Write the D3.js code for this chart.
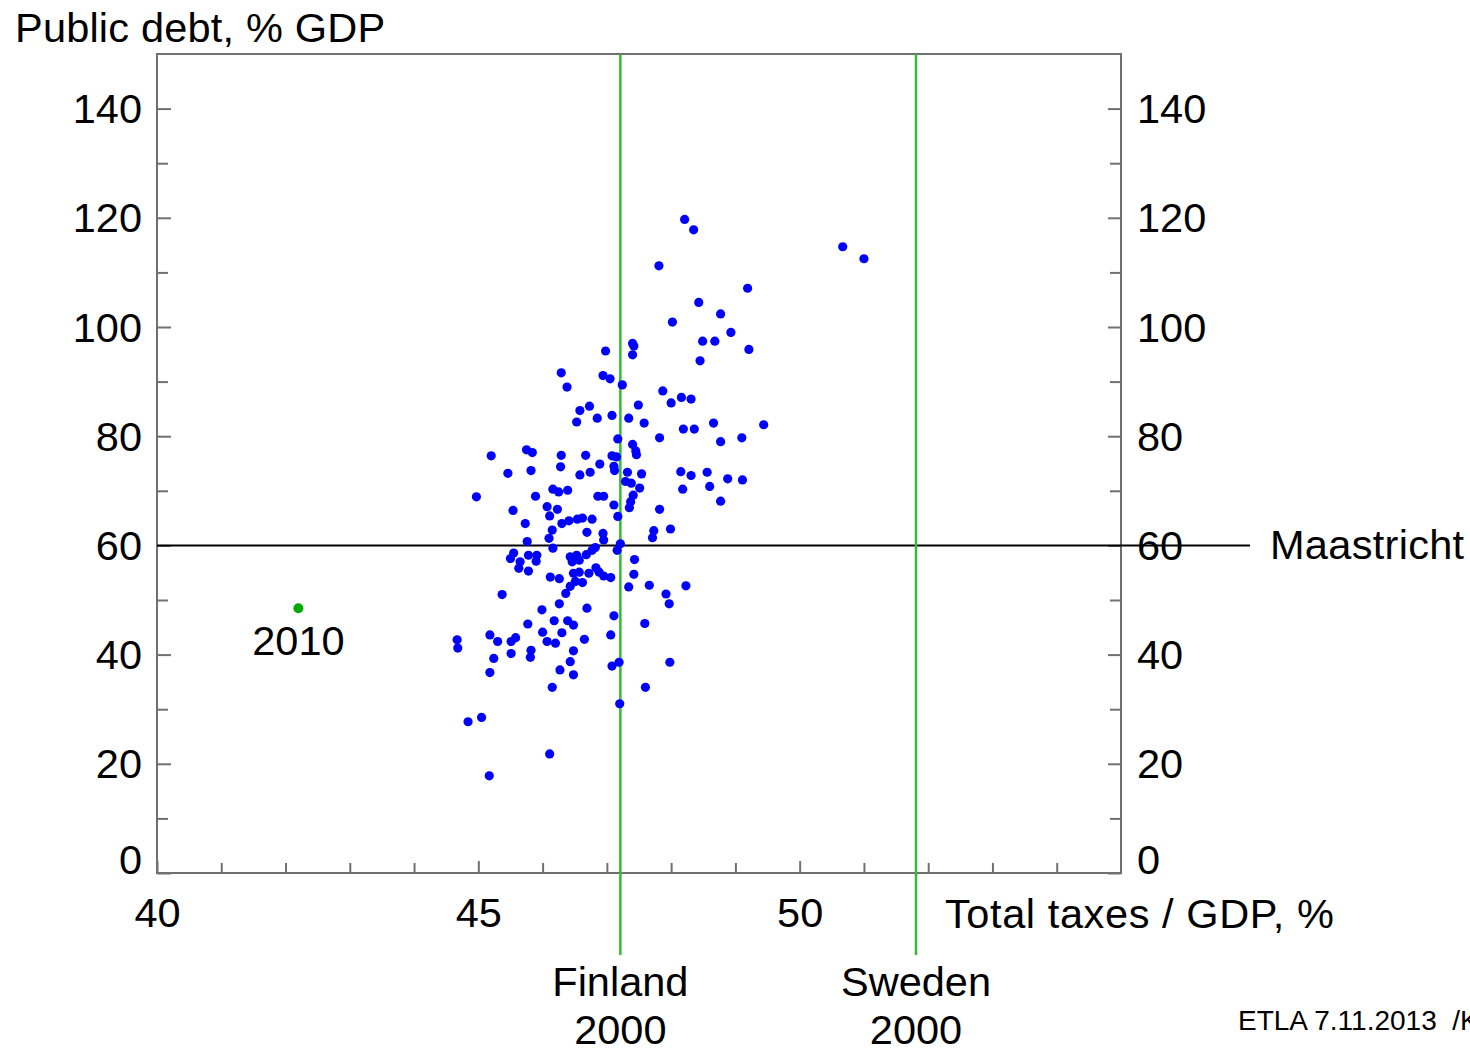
<!DOCTYPE html>
<html>
<head>
<meta charset="utf-8">
<script src="https://cdn.jsdelivr.net/npm/d3@7/dist/d3.min.js"></script>
<style>
  html, body { margin: 0; padding: 0; background: #fff; }
  svg { display: block; }
  text { font-family: "Liberation Sans", Arial, Helvetica, sans-serif; fill: #000; }
</style>
</head>
<body>
<svg id="chart" width="1470" height="1052"></svg>
<script>
// ---- Data ----
const taxes = [48.21,48.35,50.67,51.00,47.81,49.19,48.43,48.77,48.02,48.93,48.49,48.68,47.40,47.42,47.40,46.98,49.21,48.45,46.29,46.38,
46.94,47.05,47.24,47.87,48.00,48.16,48.31,47.49,46.73,46.58,46.53,46.85,47.08,47.34,47.58,48.66,49.44,48.19,48.36,47.17,
47.82,48.77,49.10,47.40,47.45,45.75,45.84,45.20,46.29,46.67,47.08,47.15,47.46,46.28,46.89,47.11,47.12,45.82,45.46,46.58,
46.74,47.32,47.54,48.15,48.31,48.56,48.88,49.11,48.60,48.18,48.77,47.29,47.38,47.51,47.41,47.37,47.35,44.97,45.89,46.16,
46.25,46.39,46.86,46.95,47.11,47.17,47.82,45.54,46.07,46.11,46.23,45.73,46.30,46.41,46.54,46.62,46.77,46.15,46.69,46.94,
46.95,47.73,47.71,47.99,46.10,45.76,47.21,47.16,46.16,46.82,46.77,46.68,45.55,45.50,45.65,45.63,45.78,45.78,45.91,45.90,
46.43,46.53,46.57,46.46,47.43,47.42,46.12,46.26,46.48,46.57,46.51,46.62,46.43,46.83,46.88,46.72,46.95,47.06,47.34,47.66,
48.23,47.92,47.97,46.36,45.37,46.26,45.99,46.69,47.11,47.59,45.77,46.18,46.39,46.48,45.18,45.30,45.51,45.58,46.00,46.30,
46.07,46.20,46.65,47.06,44.67,44.68,45.24,45.51,45.82,45.81,46.48,46.43,46.27,46.48,45.18,47.08,47.19,47.98,46.15,47.60,
47.20,44.84,45.05,46.11,45.17];
const debt = [119.7,117.8,114.7,112.5,111.2,107.1,104.5,102.4,100.9,99.0,97.4,97.4,97.0,96.5,94.9,95.6,95.9,93.8,91.6,89.0,
91.1,90.5,89.4,88.3,86.1,87.1,86.8,85.7,85.5,84.7,82.6,83.3,83.8,83.3,82.4,82.4,82.1,81.3,81.3,79.5,
79.7,79.0,79.7,78.5,77.3,77.5,77.0,76.4,76.5,76.5,76.4,76.2,76.6,74.4,74.9,74.5,73.7,73.7,73.2,72.9,
73.4,73.4,73.1,73.5,72.8,73.4,72.2,72.0,70.8,70.3,68.1,71.7,71.4,70.5,69.2,68.0,66.9,68.9,69.0,70.3,
69.8,70.1,69.0,69.0,67.4,65.3,66.6,66.4,67.1,65.4,66.6,64.0,64.0,64.5,64.8,65.0,64.8,62.8,62.4,62.2,
61.0,62.7,61.4,63.0,61.3,60.7,60.3,59.1,59.5,59.6,59.1,58.3,58.6,57.6,57.0,55.8,55.3,58.2,58.2,57.1,
57.9,58.2,57.3,57.0,57.4,54.7,54.2,53.9,54.9,55.1,53.4,53.2,52.5,55.9,55.1,54.9,54.4,54.1,52.4,52.7,
52.6,51.1,49.3,51.2,51.0,49.3,48.2,48.5,47.1,45.7,45.6,46.2,46.2,45.4,43.6,42.4,42.4,43.1,44.1,44.0,
42.4,42.1,42.8,43.6,42.7,41.2,39.3,40.2,40.8,39.5,40.7,38.7,37.2,36.3,36.7,37.9,38.6,38.6,34.0,34.0,
31.0,27.7,28.5,21.8,17.8];

const finland2010 = { label: "2010", taxes: 42.20, debt: 48.5 };
const refVertical = [ { name: "Finland", year: "2000", taxes: 47.21 },
                      { name: "Sweden",  year: "2000", taxes: 51.81 } ];
const maastricht = { label: "Maastricht", debt: 60 };

const xDomain = [40, 55];
const yDomain = [0, 150];
const xMajorTicks = [40, 45, 50];
const xMinorTicks = [41,42,43,44,46,47,48,49,51,52,53,54];
const yMajorTicks = [0, 20, 40, 60, 80, 100, 120, 140];
const yMinorTicks = [10, 30, 50, 70, 90, 110, 130];

const titleText = "Public debt, % GDP";
const xTitleText = "Total taxes / GDP, %";
const footerText = "ETLA 7.11.2013  /K";

(function () {
// ---- Layout ----
const svg = d3.select("#chart");
const pL = 157, pR = 1121, pT = 54, pB = 873;
const x = d3.scaleLinear().domain(xDomain).range([pL, pR]);
const y = d3.scaleLinear().domain(yDomain).range([pB, pT]);
const FS = 41.5;
const axisColor = "#707070";

// frame
svg.append("rect")
  .attr("x", pL).attr("y", pT)
  .attr("width", pR - pL).attr("height", pB - pT)
  .attr("fill", "none").attr("stroke", axisColor).attr("stroke-width", 2);

function styleAxis(g) {
  g.select(".domain").remove();
  g.selectAll(".tick line").attr("stroke", axisColor).attr("stroke-width", 2);
  g.selectAll(".tick text").attr("font-size", FS).attr("fill", "#000")
    .attr("font-family", "Liberation Sans, Arial, sans-serif");
}

// left axis
svg.append("g").attr("transform", `translate(${pL},0)`)
  .call(d3.axisLeft(y).tickValues(yMinorTicks).tickSize(-11).tickFormat(""))
  .call(styleAxis);
const gl = svg.append("g").attr("transform", `translate(${pL},0)`)
  .call(d3.axisLeft(y).tickValues(yMajorTicks).tickSize(-14).tickPadding(15))
  .call(styleAxis);
gl.selectAll(".tick text").attr("dy", d => d === 0 ? "0.02em" : "0.34em");

// right axis
svg.append("g").attr("transform", `translate(${pR},0)`)
  .call(d3.axisRight(y).tickValues(yMinorTicks).tickSize(-11).tickFormat(""))
  .call(styleAxis);
const gr = svg.append("g").attr("transform", `translate(${pR},0)`)
  .call(d3.axisRight(y).tickValues(yMajorTicks).tickSize(-13).tickPadding(16))
  .call(styleAxis);
gr.selectAll(".tick text").attr("dy", d => d === 0 ? "0.02em" : "0.34em");

// bottom axis
svg.append("g").attr("transform", `translate(0,${pB})`)
  .call(d3.axisBottom(x).tickValues(xMinorTicks).tickSize(-10).tickFormat(""))
  .call(styleAxis);
svg.append("g").attr("transform", `translate(0,${pB})`)
  .call(d3.axisBottom(x).tickValues(xMajorTicks).tickSize(-12).tickPadding(25))
  .call(styleAxis);

// Maastricht line
svg.append("line")
  .attr("x1", pL).attr("x2", 1250)
  .attr("y1", y(maastricht.debt)).attr("y2", y(maastricht.debt))
  .attr("stroke", "#000").attr("stroke-width", 2);
svg.append("text").attr("x", 1270).attr("y", y(maastricht.debt) + 14)
  .attr("font-size", FS).attr("letter-spacing", 0.3).text(maastricht.label);

// vertical reference lines
refVertical.forEach(r => {
  svg.append("line")
    .attr("x1", x(r.taxes)).attr("x2", x(r.taxes))
    .attr("y1", pT).attr("y2", 955)
    .attr("stroke", "#33bb33").attr("stroke-width", 2.5);
  svg.append("text").attr("x", x(r.taxes)).attr("y", 996)
    .attr("text-anchor", "middle").attr("font-size", FS).text(r.name);
  svg.append("text").attr("x", x(r.taxes)).attr("y", 1044)
    .attr("text-anchor", "middle").attr("font-size", FS).text(r.year);
});

// scatter points
const pts = taxes.map((t, i) => ({ t, d: debt[i] }));
svg.append("g").selectAll("circle").data(pts).join("circle")
  .attr("cx", p => x(p.t)).attr("cy", p => y(p.d))
  .attr("r", 4.6).attr("fill", "#0000ff");

// 2010 point
svg.append("circle")
  .attr("cx", x(finland2010.taxes)).attr("cy", y(finland2010.debt))
  .attr("r", 5).attr("fill", "#00aa00");
svg.append("text").attr("x", x(finland2010.taxes)).attr("y", y(finland2010.debt) + 47)
  .attr("text-anchor", "middle").attr("font-size", FS).text(finland2010.label);

// titles
svg.append("text").attr("x", 15).attr("y", 42).attr("font-size", FS).attr("letter-spacing", 0.2).text(titleText);
svg.append("text").attr("x", 945).attr("y", 928).attr("font-size", FS).attr("letter-spacing", 0.6).text(xTitleText);
svg.append("text").attr("x", 1238).attr("y", 1030).attr("font-size", 28)
  .style("white-space", "pre").attr("xml:space", "preserve").text(footerText);
})();
</script>
</body>
</html>
